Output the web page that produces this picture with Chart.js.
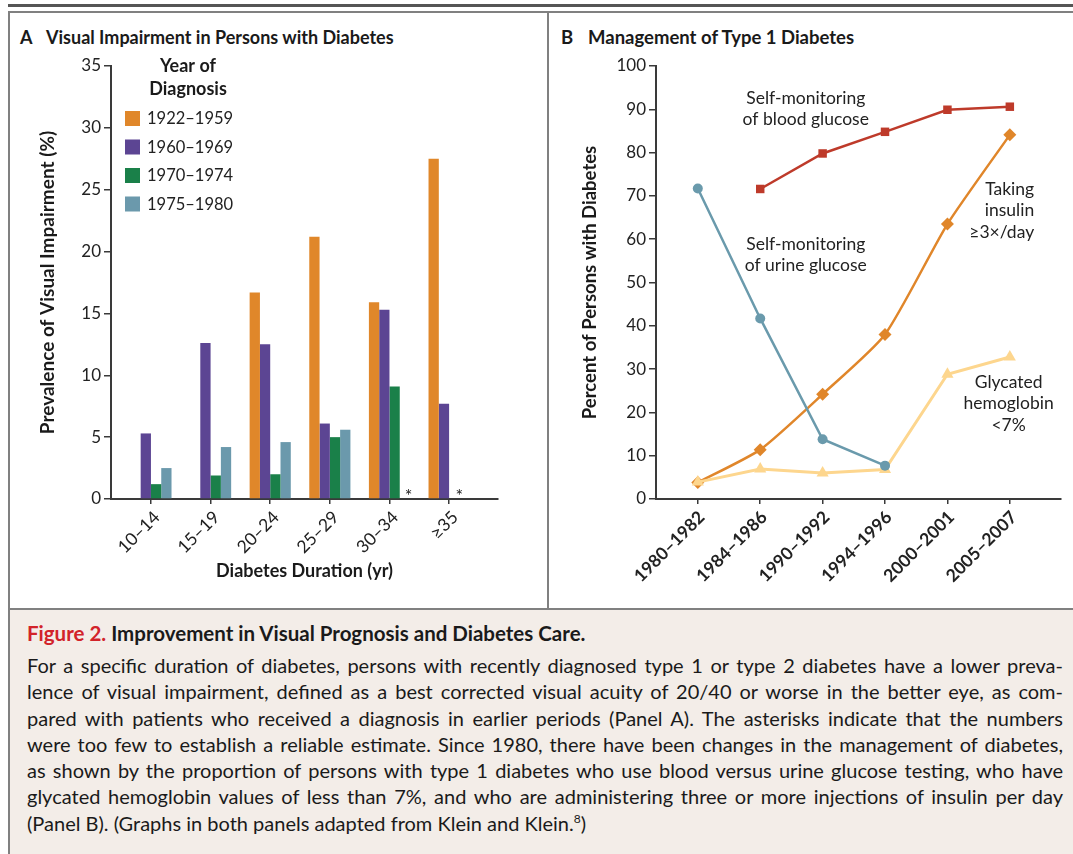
<!DOCTYPE html>
<html>
<head>
<meta charset="utf-8">
<script src="https://cdn.jsdelivr.net/npm/chart.js@4/dist/chart.umd.min.js"></script>
<style>
  html, body { margin: 0; padding: 0; background: #fff; }
  body { width: 1073px; height: 854px; position: relative; overflow: hidden; font-family: Lato, sans-serif; color: #1a1a1a; }
  #topRule { position: absolute; left: 8px; top: 4px; width: 1065px; height: 3px; background: #555; }
  #panels { position: absolute; left: 8px; top: 11px; width: 1065px; height: 599px; box-sizing: border-box;
            border-top: 2px solid #808080; border-left: 2px solid #808080; border-bottom: 2px solid #808080; }
  #divider { position: absolute; left: 547px; top: 13px; width: 2px; height: 595px; background: #808080; }
  .ptitle { position: absolute; top: 25px; font-weight: bold; font-size: 18.5px; line-height: 24px; white-space: nowrap; }
  canvas { position: absolute; }
  #caption { position: absolute; left: 8px; top: 610px; width: 1065px; height: 244px; box-sizing: border-box;
             border-left: 2px solid #808080; background: #f3ede8; padding: 10px 10px 0 17px; }
  #caption .head { font-weight: bold; font-size: 20.5px; line-height: 26px; margin-bottom: 6px; }
  #caption .head .fig { color: #d2232a; }
  #caption .line { font-size: 20px; line-height: 26.3px; width: 1036px; text-align: justify; text-align-last: justify; white-space: nowrap; }
  #caption .line.last { text-align-last: left; }
  sup { font-size: 12px; line-height: 0; }
</style>
</head>
<body>
<div id="topRule"></div>
<div id="panels"></div>
<div id="divider"></div>

<div class="ptitle" style="left:20px; font-size:18px">A</div>
<div class="ptitle" style="left:46px; font-size:18px">Visual Impairment in Persons with Diabetes</div>
<div class="ptitle" style="left:561px">B</div>
<div class="ptitle" style="left:588px">Management of Type 1 Diabetes</div>

<canvas id="chartA" width="537" height="594" style="left:10px; top:13px;"></canvas>
<canvas id="chartB" width="523" height="594" style="left:550px; top:13px;"></canvas>

<div id="caption">
  <div class="head"><span class="fig">Figure 2.</span> Improvement in Visual Prognosis and Diabetes Care.</div>
  <div class="line">For a specific duration of diabetes, persons with recently diagnosed type 1 or type 2 diabetes have a lower preva-</div>
  <div class="line">lence of visual impairment, defined as a best corrected visual acuity of 20/40 or worse in the better eye, as com-</div>
  <div class="line">pared with patients who received a diagnosis in earlier periods (Panel A). The asterisks indicate that the numbers</div>
  <div class="line">were too few to establish a reliable estimate. Since 1980, there have been changes in the management of diabetes,</div>
  <div class="line">as shown by the proportion of persons with type 1 diabetes who use blood versus urine glucose testing, who have</div>
  <div class="line">glycated hemoglobin values of less than 7%, and who are administering three or more injections of insulin per day</div>
  <div class="line last">(Panel B). (Graphs in both panels adapted from Klein and Klein.<sup>8</sup>)</div>
</div>

<script>
// ---- Panel A data: prevalence of visual impairment (%) ----
const durationLabels = ['10–14', '15–19', '20–24', '25–29', '30–34', '≥35'];
const diagnosisPeriods = ['1922–1959', '1960–1969', '1970–1974', '1975–1980'];
const impair1922 = [null, null, 16.7, 21.2, 15.9, 27.5];
const impair1960 = [5.3, 12.6, 12.5, 6.1, 15.3, 7.7];
const impair1970 = [1.2, 1.9, 2.0, 5.0, 9.1, null];
const impair1975 = [2.5, 4.2, 4.6, 5.6, null, null];
// asterisks: too few to estimate (category index + small shift inside the group)
const asteriskAt = [[4, 0.32], [5, 0.17]];

// ---- Panel B data: percent of persons with diabetes ----
const periodLabels = ['1980–1982', '1984–1986', '1990–1992', '1994–1996', '2000–2001', '2005–2007'];
const bloodGlucose = [null, 71.6, 79.8, 84.8, 89.9, 90.6];
const urineGlucose = [71.7, 41.7, 13.8, 7.7, null, null];
const insulin3x = [3.8, 11.4, 24.2, 38.0, 63.5, 84.1];
const hba1cUnder7 = [3.9, 6.9, 6.0, 6.8, 28.8, 32.8];

const barColors = ['#e0872a', '#5c4593', '#1a8049', '#6b99ac'];
const ink = '#222';
const axisColor = '#3a3a3a';

Chart.defaults.font.family = 'Lato, sans-serif';
Chart.defaults.color = ink;
Chart.defaults.animation = false;

const toXY = arr => arr.map((v, i) => ({ x: i, y: v }));

// category-like linear x axis so the axis line runs a bit past the last group
function catAxis(labels, fontWeight, shift) {
  return {
    type: 'linear', min: -0.67, max: 5.82, offset: false,
    afterBuildTicks: s => { s.ticks = labels.map((_, i) => ({ value: i })); },
    afterFit: s => { s.height = 108; },
    ticks: {
      autoSkip: false, maxRotation: 45, minRotation: 45, padding: 3, labelOffset: shift,
      font: { size: 17.5, weight: fontWeight }, color: ink,
      callback: v => labels[v]
    },
    grid: { offset: false, drawOnChartArea: false, drawTicks: true, tickLength: 5, color: axisColor, lineWidth: 1.5 },
    border: { display: true, color: axisColor, width: 2 }
  };
}

const legendA = {
  id: 'legendA',
  afterDraw(chart) {
    const { ctx, chartArea: a, scales } = chart;
    ctx.save();
    ctx.textBaseline = 'middle';
    ctx.fillStyle = '#1a1a1a';
    ctx.font = 'bold 18px Lato, sans-serif';
    ctx.textAlign = 'center';
    ctx.fillText('Year of', a.left + 77, a.top);
    ctx.fillText('Diagnosis', a.left + 77, a.top + 23);
    chart.data.datasets.forEach((ds, i) => {
      const y = a.top + 45 + i * 28.5;
      ctx.fillStyle = ds.backgroundColor;
      ctx.fillRect(a.left + 14, y, 15, 15);
      ctx.fillStyle = ink;
      ctx.font = '16.5px Lato, sans-serif';
      ctx.textAlign = 'left';
      ctx.fillText(ds.label, a.left + 36, y + 8);
    });
    // asterisks
    ctx.textAlign = 'center';
    ctx.textBaseline = 'alphabetic';
    ctx.font = '18px Lato, sans-serif';
    asteriskAt.forEach(([c, shift]) => {
      ctx.fillText('*', scales.x.getPixelForValue(c + shift), scales.y.getPixelForValue(0) + 3);
    });
    ctx.restore();
  }
};

new Chart(document.getElementById('chartA'), {
  type: 'bar',
  data: {
    datasets: [impair1922, impair1960, impair1970, impair1975].map((d, i) => ({
      label: diagnosisPeriods[i],
      data: toXY(d),
      backgroundColor: barColors[i],
      borderWidth: 0,
      barPercentage: 1,
      categoryPercentage: 0.69
    }))
  },
  options: {
    responsive: false,
    layout: { padding: { top: 53, right: 49, left: 0, bottom: 0 } },
    plugins: { legend: { display: false }, tooltip: { enabled: false } },
    scales: {
      x: Object.assign(catAxis(durationLabels, 'normal', 6), {
        title: { display: true, text: 'Diabetes Duration (yr)', font: { size: 18, weight: 'bold' }, color: '#1a1a1a', padding: { top: 0, bottom: 25 } }
      }),
      y: {
        min: 0, max: 35,
        afterFit: s => { s.width = 101; },
        ticks: { stepSize: 5, font: { size: 17 }, color: ink, padding: 3 },
        grid: { drawOnChartArea: false, drawTicks: true, tickLength: 7, color: axisColor, lineWidth: 1.5 },
        border: { display: true, color: axisColor, width: 2 },
        title: { display: true, text: 'Prevalence of Visual Impairment (%)', font: { size: 19, weight: 'bold' }, color: '#1a1a1a', padding: { top: 26, bottom: 0 } }
      }
    }
  },
  plugins: [legendA]
});

// ---- Panel B ----
const notesB = [
  { lines: ['Self-monitoring', 'of blood glucose'], x: 1.73, y: 92.6, align: 'center' },
  { lines: ['Self-monitoring', 'of urine glucose'], x: 1.73, y: 58.9, align: 'center' },
  { lines: ['Taking', 'insulin', '≥3×/day'], x: 5.39, y: 71.6, align: 'right' },
  { lines: ['Glycated', 'hemoglobin', '<7%'], x: 4.98, y: 27.0, align: 'center' }
];

const notesPlugin = {
  id: 'notesB',
  afterDraw(chart) {
    const { ctx, scales } = chart;
    ctx.save();
    ctx.fillStyle = ink;
    ctx.font = '17.5px Lato, sans-serif';
    ctx.textBaseline = 'middle';
    notesB.forEach(n => {
      ctx.textAlign = n.align;
      const px = scales.x.getPixelForValue(n.x);
      const py = scales.y.getPixelForValue(n.y);
      n.lines.forEach((t, k) => ctx.fillText(t, px, py + k * 21.5));
    });
    ctx.restore();
  }
};

const lineSeries = [
  { label: 'Self-monitoring of urine glucose', data: urineGlucose, color: '#6a9aac', style: 'circle', r: 5, w: 2.5, tension: 0 },
  { label: 'Glycated hemoglobin <7%', data: hba1cUnder7, color: '#fdd68e', style: 'triangle', r: 7, w: 3, tension: 0 },
  { label: 'Taking insulin ≥3×/day', data: insulin3x, color: '#e0862a', style: 'rectRot', r: 6.5, w: 2.5, tension: 0.2 },
  { label: 'Self-monitoring of blood glucose', data: bloodGlucose, color: '#be3a2a', style: 'rect', r: 6, w: 2.5, tension: 0 }
];

new Chart(document.getElementById('chartB'), {
  type: 'line',
  data: {
    datasets: lineSeries.map(s => ({
      label: s.label,
      data: toXY(s.data),
      borderColor: s.color,
      backgroundColor: s.color,
      borderWidth: s.w,
      pointStyle: s.style,
      pointRadius: s.r,
      pointBorderWidth: 0,
      tension: s.tension,
      spanGaps: false
    }))
  },
  options: {
    responsive: false,
    layout: { padding: { top: 53, right: 12, left: 0, bottom: 0 } },
    plugins: { legend: { display: false }, tooltip: { enabled: false } },
    scales: {
      x: catAxis(periodLabels, 'bold', 4),
      y: {
        min: 0, max: 100,
        afterFit: s => { s.width = 106; },
        ticks: { stepSize: 10, font: { size: 17 }, color: ink, padding: 3 },
        grid: { drawOnChartArea: false, drawTicks: true, tickLength: 7, color: axisColor, lineWidth: 1.5 },
        border: { display: true, color: axisColor, width: 2 },
        title: { display: true, text: 'Percent of Persons with Diabetes', font: { size: 18.5, weight: 'bold' }, color: '#1a1a1a', padding: { top: 29, bottom: 0 } }
      }
    }
  },
  plugins: [notesPlugin]
});
</script>
</body>
</html>
